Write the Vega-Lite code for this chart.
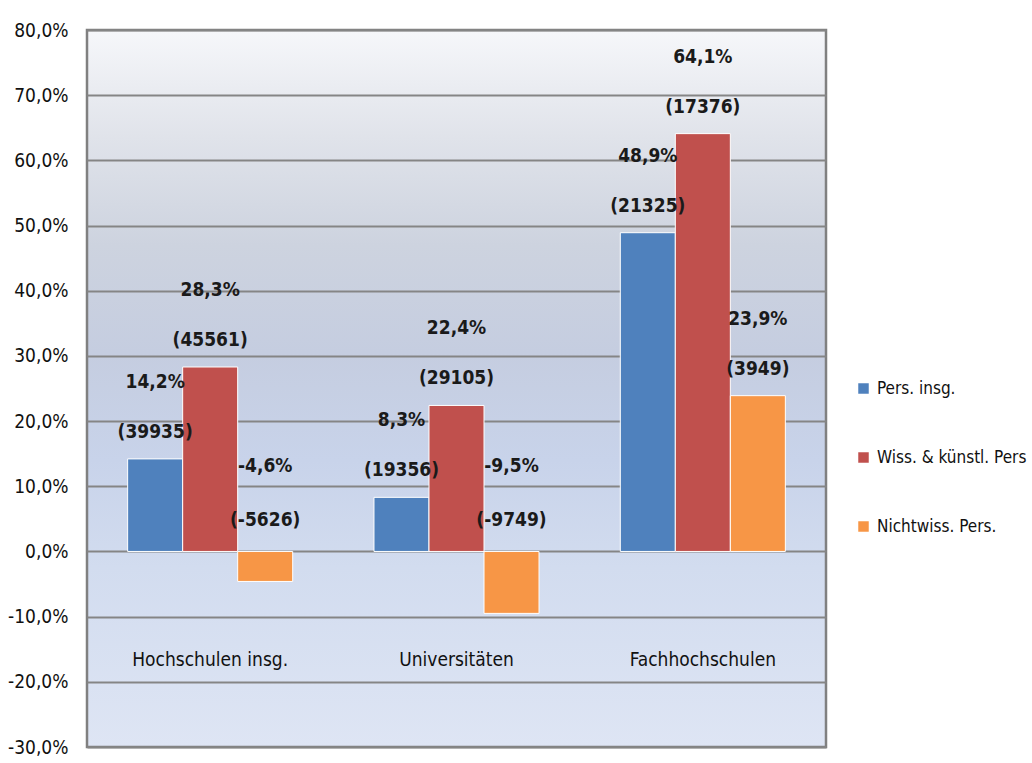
{
  "$schema": "https://vega.github.io/schema/vega-lite/v6.json",
  "width": 739,
  "height": 717,
  "autosize": {"type": "none"},
  "padding": {"left": 87, "top": 30, "right": 206, "bottom": 16},
  "background": "#ffffff",
  "config": {
    "locale": {"number": {"decimal": ",", "thousands": ".", "grouping": [3], "currency": ["", " €"], "minus": "-"}},
    "font": "DejaVu Sans Condensed",
    "view": {
      "stroke": "#808080",
      "strokeWidth": 2.5,
      "fill": {
        "gradient": "linear", "x1": 0, "y1": 0, "x2": 0, "y2": 1,
        "stops": [
          {"offset": 0, "color": "#f6f7fa"},
          {"offset": 0.15, "color": "#e0e3ea"},
          {"offset": 0.3, "color": "#cdd3df"},
          {"offset": 0.45, "color": "#c5cde0"},
          {"offset": 0.6, "color": "#c8d3ea"},
          {"offset": 0.75, "color": "#d2dcef"},
          {"offset": 1, "color": "#dee5f4"}
        ]
      }
    }
  },
  "data": {
    "values": [
      {"type": "Hochschulen insg.", "group": "Pers. insg.", "pct": 0.142, "count": 39935},
      {"type": "Hochschulen insg.", "group": "Wiss. & künstl. Pers", "pct": 0.283, "count": 45561},
      {"type": "Hochschulen insg.", "group": "Nichtwiss. Pers.", "pct": -0.046, "count": -5626},
      {"type": "Universitäten", "group": "Pers. insg.", "pct": 0.083, "count": 19356},
      {"type": "Universitäten", "group": "Wiss. & künstl. Pers", "pct": 0.224, "count": 29105},
      {"type": "Universitäten", "group": "Nichtwiss. Pers.", "pct": -0.095, "count": -9749},
      {"type": "Fachhochschulen", "group": "Pers. insg.", "pct": 0.489, "count": 21325},
      {"type": "Fachhochschulen", "group": "Wiss. & künstl. Pers", "pct": 0.641, "count": 17376},
      {"type": "Fachhochschulen", "group": "Nichtwiss. Pers.", "pct": 0.239, "count": 3949}
    ]
  },
  "transform": [
    {"calculate": "'(' + datum.count + ')'", "as": "countLabel"}
  ],
  "encoding": {
    "x": {
      "field": "type", "type": "nominal",
      "sort": ["Hochschulen insg.", "Universitäten", "Fachhochschulen"],
      "scale": {"paddingInner": 0.33, "paddingOuter": 0.165},
      "axis": {
        "title": null, "domain": false, "ticks": false, "grid": false,
        "labelAngle": 0, "labelPadding": -97, "labelFontSize": 19,
        "labelFont": "DejaVu Sans Condensed", "labelColor": "#111111"
      }
    },
    "xOffset": {
      "field": "group", "type": "nominal",
      "sort": ["Pers. insg.", "Wiss. & künstl. Pers", "Nichtwiss. Pers."],
      "scale": {"paddingInner": 0, "paddingOuter": 0}
    }
  },
  "layer": [
    {
      "mark": {"type": "bar", "stroke": "#ffffff", "strokeWidth": 1},
      "encoding": {
        "y": {
          "field": "pct", "type": "quantitative",
          "scale": {"domain": [-0.3, 0.8], "nice": false},
          "axis": {
            "title": null, "domain": false, "ticks": false,
            "values": [-0.3, -0.2, -0.1, 0, 0.1, 0.2, 0.3, 0.4, 0.5, 0.6, 0.7, 0.8],
            "format": ".1%", "labelPadding": 19, "labelFontSize": 19,
            "labelFont": "DejaVu Sans Condensed", "labelColor": "#111111",
            "grid": true, "gridColor": "#858585", "gridWidth": 2
          }
        },
        "color": {
          "field": "group", "type": "nominal",
          "sort": ["Pers. insg.", "Wiss. & künstl. Pers", "Nichtwiss. Pers."],
          "scale": {
            "domain": ["Pers. insg.", "Wiss. & künstl. Pers", "Nichtwiss. Pers."],
            "range": ["#4f81bd", "#c0504d", "#f79646"]
          },
          "legend": {
            "title": null, "orient": "none", "legendX": 768, "legendY": 350,
            "symbolType": "square", "symbolSize": 110, "symbolStrokeWidth": 0,
            "labelFontSize": 17, "labelFont": "DejaVu Sans Condensed", "labelLimit": 0,
            "labelColor": "#111111", "labelOffset": 5, "rowPadding": 51, "padding": 0
          }
        }
      }
    },
    {
      "transform": [{"filter": "datum.pct >= 0"}],
      "mark": {"type": "text", "dy": -77, "fontSize": 19, "fontWeight": "bold", "color": "#1a1a1a", "baseline": "middle"},
      "encoding": {
        "y": {"field": "pct", "type": "quantitative"},
        "text": {"field": "pct", "type": "quantitative", "format": ".1%"}
      }
    },
    {
      "transform": [{"filter": "datum.pct >= 0"}],
      "mark": {"type": "text", "dy": -27, "fontSize": 19, "fontWeight": "bold", "color": "#1a1a1a", "baseline": "middle"},
      "encoding": {
        "y": {"field": "pct", "type": "quantitative"},
        "text": {"field": "countLabel", "type": "nominal"}
      }
    },
    {
      "transform": [{"filter": "datum.pct < 0"}],
      "mark": {"type": "text", "dy": -85, "fontSize": 19, "fontWeight": "bold", "color": "#1a1a1a", "baseline": "middle"},
      "encoding": {
        "y": {"datum": 0, "type": "quantitative"},
        "text": {"field": "pct", "type": "quantitative", "format": ".1%"}
      }
    },
    {
      "transform": [{"filter": "datum.pct < 0"}],
      "mark": {"type": "text", "dy": -31, "fontSize": 19, "fontWeight": "bold", "color": "#1a1a1a", "baseline": "middle"},
      "encoding": {
        "y": {"datum": 0, "type": "quantitative"},
        "text": {"field": "countLabel", "type": "nominal"}
      }
    }
  ]
}
